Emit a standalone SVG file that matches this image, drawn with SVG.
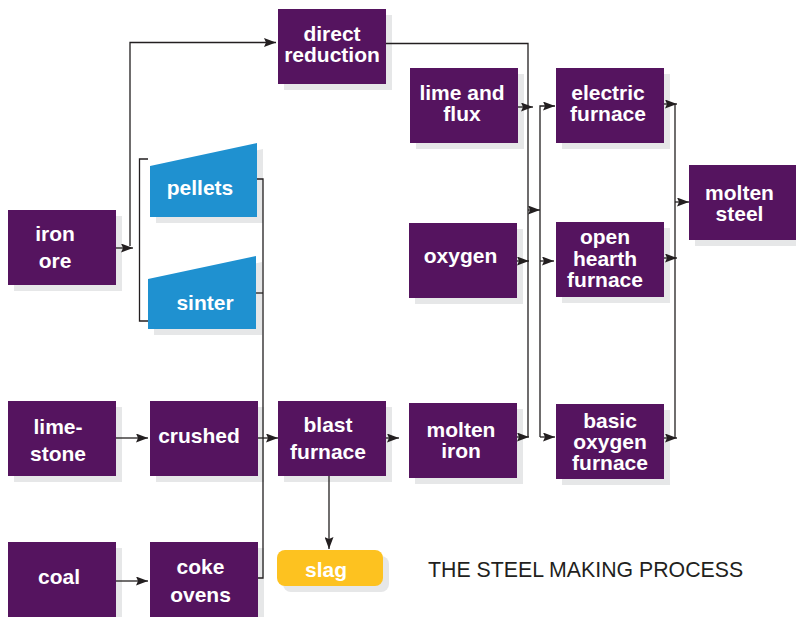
<svg xmlns="http://www.w3.org/2000/svg" width="796" height="617" viewBox="0 0 796 617">
<defs>
<style>
.box{fill:#55145f}
.sh{fill:#e6e7e8}
.blue{fill:#1f91d0}
.yel{fill:#fdc220}
.t{font-family:"Liberation Sans",Arial,sans-serif;font-weight:bold;font-size:21px;fill:#ffffff;text-anchor:middle}
.title{font-family:"Liberation Sans",Arial,sans-serif;font-size:21.3px;fill:#231f20}
.c{fill:none;stroke:#231f20;stroke-width:1.3}
</style>
<marker id="ah" viewBox="0 0 12 9" refX="12" refY="4.5" markerWidth="12" markerHeight="9" markerUnits="userSpaceOnUse" orient="auto">
<path d="M0,0 L12,4.5 L0,9 L2,4.5 Z" fill="#231f20"/>
</marker>
</defs>
<rect width="796" height="617" fill="#ffffff"/>

<g id="direct-reduction">
<rect class="sh" x="284" y="15" width="108" height="75"/>
<rect class="box" x="278" y="9" width="108" height="75"/>
<text class="t" x="332" y="41">direct</text>
<text class="t" x="332" y="62">reduction</text>
</g>

<g id="iron-ore">
<rect class="sh" x="14" y="216" width="108" height="75"/>
<rect class="box" x="8" y="210" width="108" height="75"/>
<text class="t" x="55" y="241">iron</text>
<text class="t" x="55" y="268">ore</text>
</g>

<g id="pellets">
<polygon class="sh" points="156,172 263,149 263,223 156,223"/>
<polygon class="blue" points="150,166 257,143 257,217 150,217"/>
<text class="t" x="200" y="195">pellets</text>
</g>

<g id="sinter">
<polygon class="sh" points="154,285 262,262 262,335 154,335"/>
<polygon class="blue" points="148,279 256,256 256,329 148,329"/>
<text class="t" x="205" y="310">sinter</text>
</g>

<g id="limestone">
<rect class="sh" x="14" y="407" width="108" height="75"/>
<rect class="box" x="8" y="401" width="108" height="75"/>
<text class="t" x="58" y="434">lime-</text>
<text class="t" x="58" y="461">stone</text>
</g>

<g id="crushed">
<rect class="sh" x="156" y="407" width="108" height="75"/>
<rect class="box" x="150" y="401" width="108" height="75"/>
<text class="t" x="199" y="443">crushed</text>
</g>

<g id="blast-furnace">
<rect class="sh" x="284" y="407" width="108" height="75"/>
<rect class="box" x="278" y="401" width="108" height="75"/>
<text class="t" x="328" y="432">blast</text>
<text class="t" x="328" y="459">furnace</text>
</g>

<g id="coal">
<rect class="sh" x="14" y="548" width="108" height="75"/>
<rect class="box" x="8" y="542" width="108" height="75"/>
<text class="t" x="59" y="584">coal</text>
</g>

<g id="coke-ovens">
<rect class="sh" x="156" y="548" width="108" height="75"/>
<rect class="box" x="150" y="542" width="108" height="75"/>
<text class="t" x="200.5" y="574">coke</text>
<text class="t" x="200.5" y="602">ovens</text>
</g>

<g id="slag">
<rect class="sh" x="283" y="556" width="106" height="36" rx="8"/>
<rect class="yel" x="277" y="550" width="106" height="36" rx="8"/>
<text class="t" x="326" y="577">slag</text>
</g>

<g id="lime-and-flux">
<rect class="sh" x="416" y="74" width="108" height="75"/>
<rect class="box" x="410" y="68" width="108" height="75"/>
<text class="t" x="462" y="100">lime and</text>
<text class="t" x="462" y="121">flux</text>
</g>

<g id="oxygen">
<rect class="sh" x="415" y="229" width="108" height="75"/>
<rect class="box" x="409" y="223" width="108" height="75"/>
<text class="t" x="460.5" y="263">oxygen</text>
</g>

<g id="molten-iron">
<rect class="sh" x="415" y="409" width="108" height="75"/>
<rect class="box" x="409" y="403" width="108" height="75"/>
<text class="t" x="461" y="437">molten</text>
<text class="t" x="461" y="458">iron</text>
</g>

<g id="electric-furnace">
<rect class="sh" x="562" y="74" width="108" height="75"/>
<rect class="box" x="556" y="68" width="108" height="75"/>
<text class="t" x="608" y="100">electric</text>
<text class="t" x="608" y="121">furnace</text>
</g>

<g id="open-hearth-furnace">
<rect class="sh" x="562" y="228" width="108" height="75"/>
<rect class="box" x="556" y="222" width="108" height="75"/>
<text class="t" x="605" y="244">open</text>
<text class="t" x="605" y="265.5">hearth</text>
<text class="t" x="605" y="286.5">furnace</text>
</g>

<g id="basic-oxygen-furnace">
<rect class="sh" x="562" y="410" width="108" height="75"/>
<rect class="box" x="556" y="404" width="108" height="75"/>
<text class="t" x="610" y="428">basic</text>
<text class="t" x="610" y="449">oxygen</text>
<text class="t" x="610" y="470">furnace</text>
</g>

<g id="molten-steel">
<rect class="sh" x="695" y="171" width="108" height="75"/>
<rect class="box" x="689" y="165" width="108" height="75"/>
<text class="t" x="739.5" y="200">molten</text>
<text class="t" x="739.5" y="221">steel</text>
</g>

<g id="connectors">
<path class="c" d="M116,248 H133" marker-end="url(#ah)"/>
<path class="c" d="M130,246 V42.5 H276" marker-end="url(#ah)"/>
<path class="c" d="M148,159 H139.5 V321 H148"/>
<path class="c" d="M257,179 H263 V578 H258"/>
<path class="c" d="M256,293 H263"/>
<path class="c" d="M258,438 H278" marker-end="url(#ah)"/>
<path class="c" d="M116,438 H148" marker-end="url(#ah)"/>
<path class="c" d="M116,581 H148" marker-end="url(#ah)"/>
<path class="c" d="M329,476 V549" marker-end="url(#ah)"/>
<path class="c" d="M386,438 H399" marker-end="url(#ah)"/>
<path class="c" d="M386,43.5 H528 V437"/>
<path class="c" d="M518,107 H533" marker-end="url(#ah)"/>
<path class="c" d="M517,261 H529" marker-end="url(#ah)"/>
<path class="c" d="M517,437 H529" marker-end="url(#ah)"/>
<path class="c" d="M528,210 H540" marker-end="url(#ah)"/>
<path class="c" d="M540,437 V106 H555" marker-end="url(#ah)"/>
<path class="c" d="M540,261 H554" marker-end="url(#ah)"/>
<path class="c" d="M540,437 H555" marker-end="url(#ah)"/>
<path class="c" d="M664,104 H677" marker-end="url(#ah)"/>
<path class="c" d="M675,104 V438"/>
<path class="c" d="M664,258 H677" marker-end="url(#ah)"/>
<path class="c" d="M664,438 H677" marker-end="url(#ah)"/>
<path class="c" d="M675,202 H689" marker-end="url(#ah)"/>
</g>

<text class="title" x="428" y="577">THE STEEL MAKING PROCESS</text>
</svg>
